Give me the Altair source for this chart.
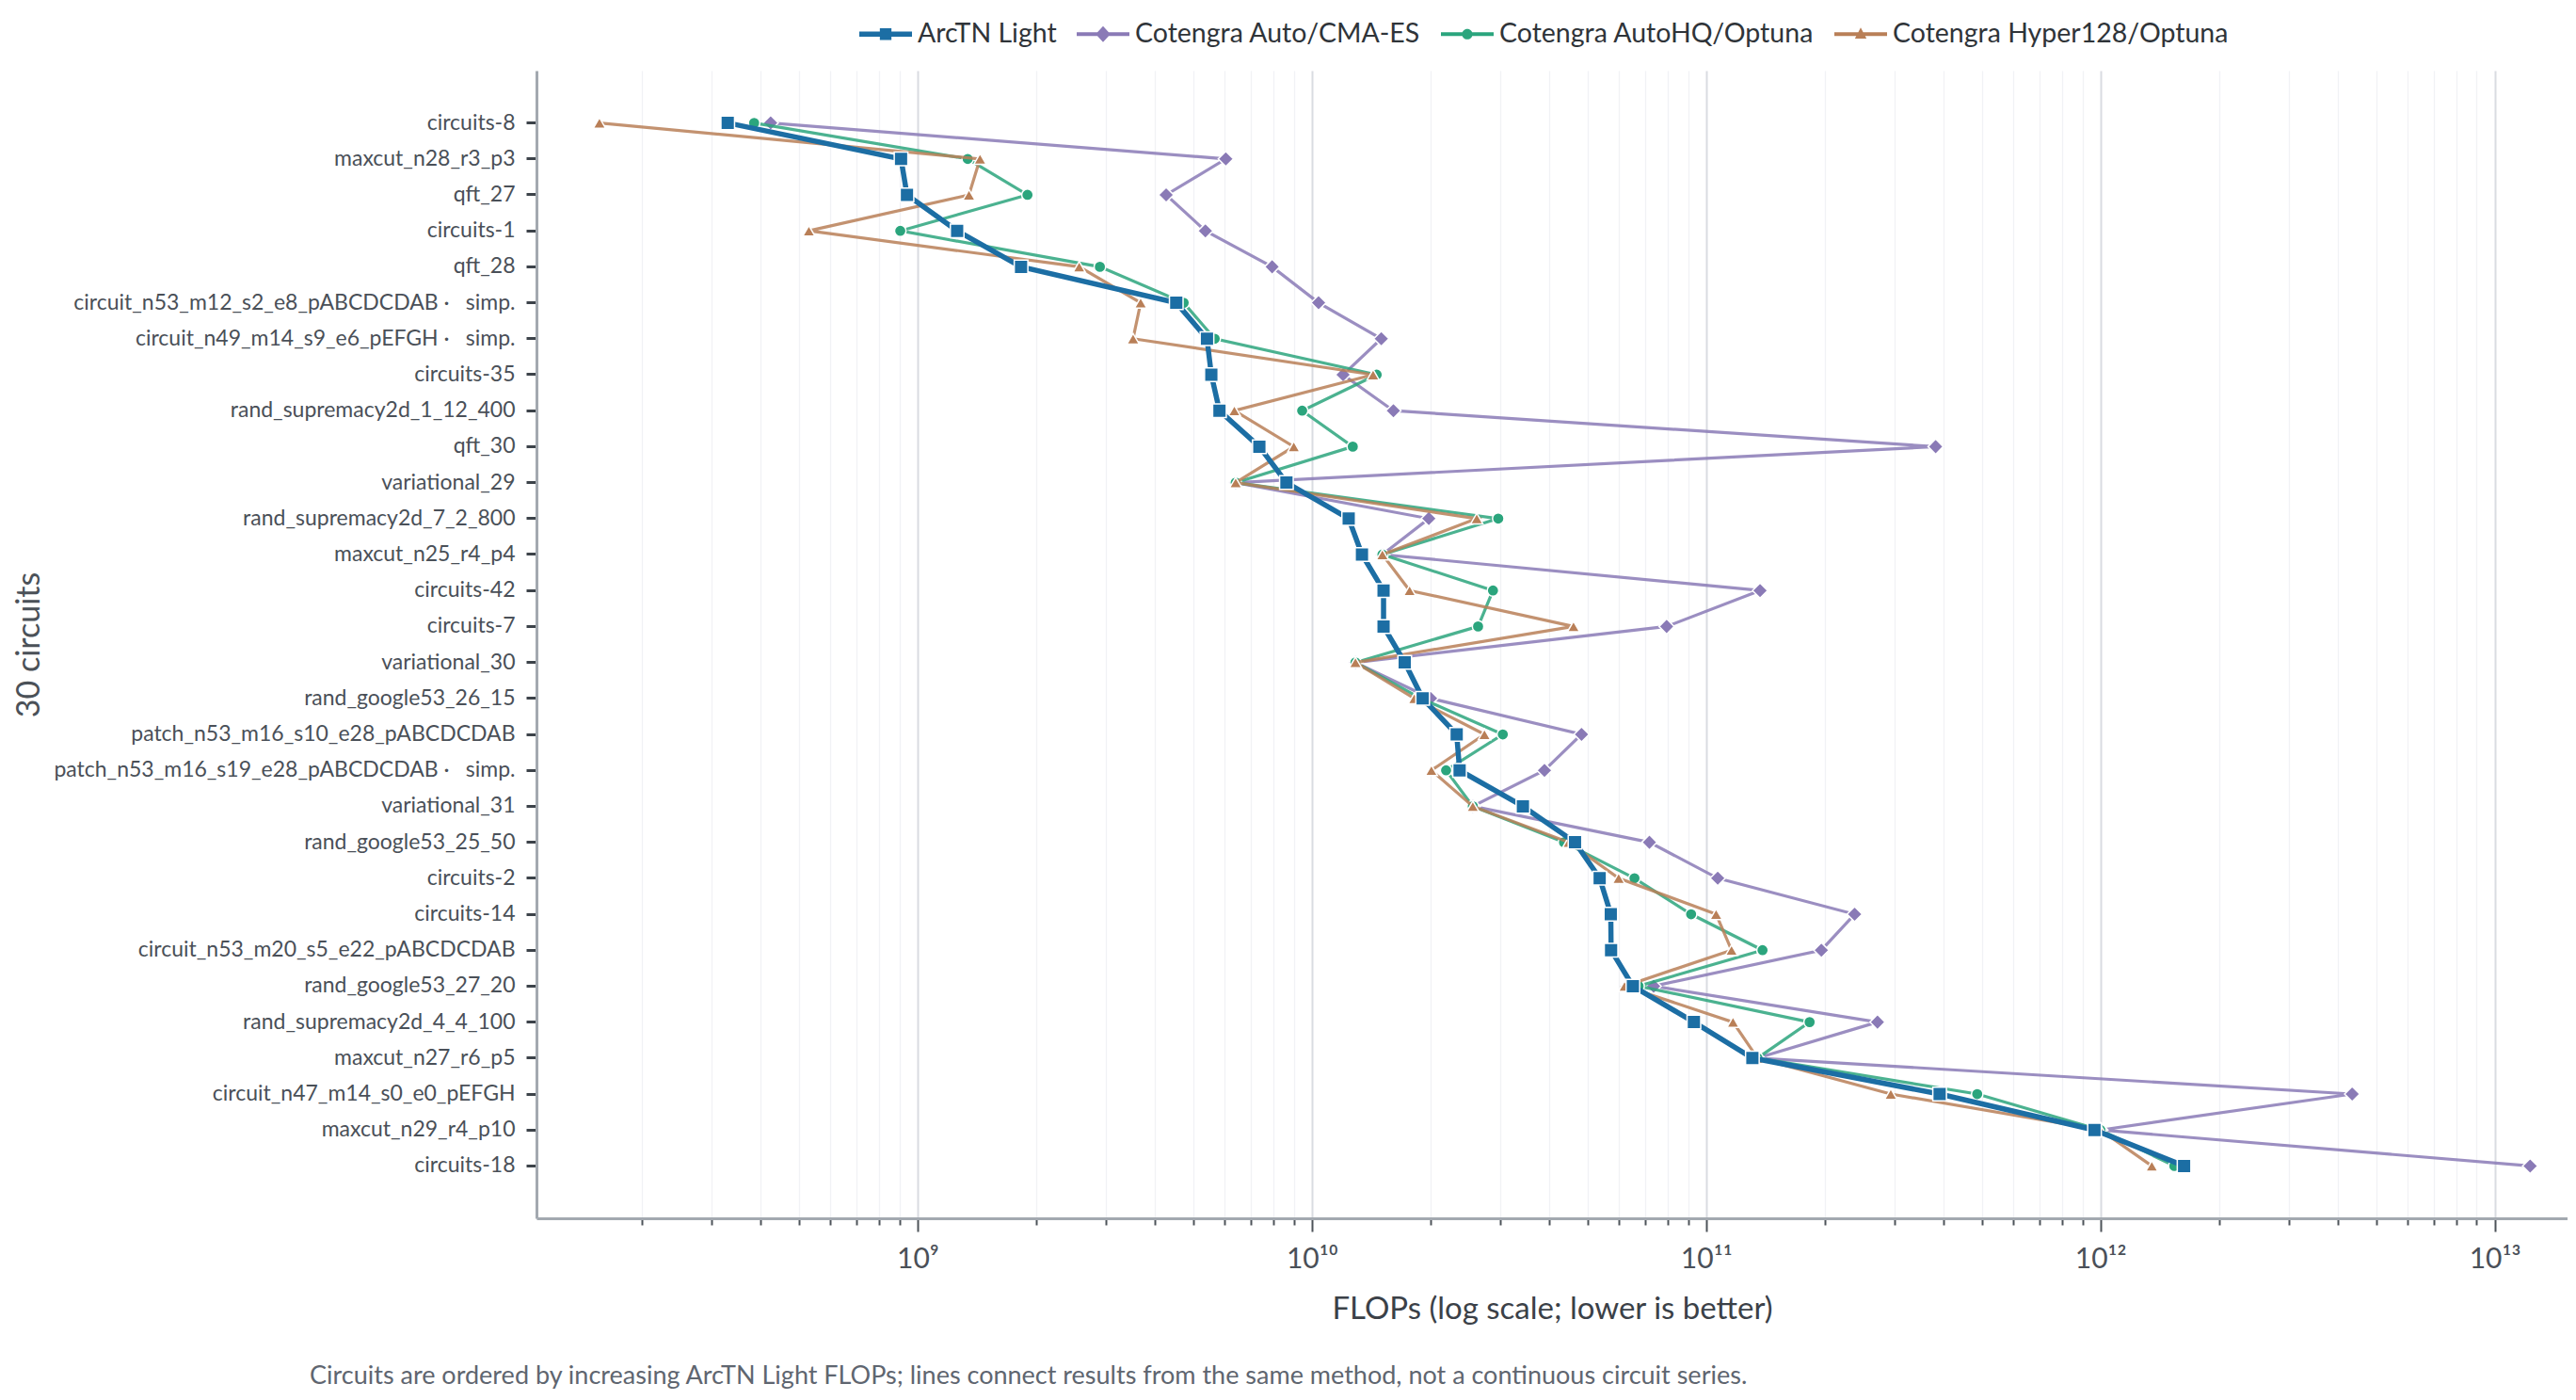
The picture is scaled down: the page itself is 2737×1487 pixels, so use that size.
import altair as alt
import pandas as pd

circuits = [
    "circuits-8", "maxcut_n28_r3_p3", "qft_27", "circuits-1", "qft_28",
    "circuit_n53_m12_s2_e8_pABCDCDAB ·\u2003simp.",
    "circuit_n49_m14_s9_e6_pEFGH ·\u2003simp.",
    "circuits-35", "rand_supremacy2d_1_12_400", "qft_30", "variational_29",
    "rand_supremacy2d_7_2_800", "maxcut_n25_r4_p4", "circuits-42", "circuits-7",
    "variational_30", "rand_google53_26_15", "patch_n53_m16_s10_e28_pABCDCDAB",
    "patch_n53_m16_s19_e28_pABCDCDAB ·\u2003simp.",
    "variational_31", "rand_google53_25_50", "circuits-2", "circuits-14",
    "circuit_n53_m20_s5_e22_pABCDCDAB", "rand_google53_27_20",
    "rand_supremacy2d_4_4_100", "maxcut_n27_r6_p5", "circuit_n47_m14_s0_e0_pEFGH",
    "maxcut_n29_r4_p10", "circuits-18",
]

arctn = [3.3e8, 9.08e8, 9.4e8, 1.26e9, 1.83e9, 4.53e9, 5.42e9, 5.56e9, 5.83e9, 7.36e9,
         8.62e9, 1.24e10, 1.34e10, 1.52e10, 1.52e10, 1.72e10, 1.91e10, 2.33e10, 2.37e10, 3.43e10,
         4.65e10, 5.37e10, 5.73e10, 5.74e10, 6.52e10, 9.31e10, 1.31e11, 3.91e11, 9.66e11, 1.63e12]
auto = [4.24e8, 6.05e9, 4.27e9, 5.37e9, 7.93e9, 1.04e10, 1.5e10, 1.2e10, 1.61e10, 3.82e11,
        6.41e9, 1.98e10, 1.51e10, 1.37e11, 7.94e10, 1.29e10, 2.0e10, 4.83e10, 3.89e10, 2.56e10,
        7.18e10, 1.07e11, 2.38e11, 1.96e11, 7.36e10, 2.72e11, 1.35e11, 4.35e12, 1.0e12, 1.23e13]
autohq = [3.85e8, 1.34e9, 1.9e9, 9.04e8, 2.9e9, 4.73e9, 5.67e9, 1.46e10, 9.45e9, 1.27e10,
          6.41e9, 2.97e10, 1.51e10, 2.88e10, 2.64e10, 1.29e10, 1.89e10, 3.05e10, 2.19e10, 2.56e10,
          4.36e10, 6.58e10, 9.16e10, 1.39e11, 6.74e10, 1.83e11, 1.35e11, 4.87e11, 1.0e12, 1.54e12]
hyper = [1.56e8, 1.44e9, 1.35e9, 5.3e8, 2.57e9, 3.68e9, 3.52e9, 1.43e10, 6.36e9, 9.0e9,
         6.41e9, 2.62e10, 1.51e10, 1.77e10, 4.61e10, 1.29e10, 1.82e10, 2.74e10, 2.01e10, 2.56e10,
         4.48e10, 6.0e10, 1.06e11, 1.16e11, 6.21e10, 1.17e11, 1.35e11, 2.94e11, 1.0e12, 1.35e12]

methods = ["ArcTN Light", "Cotengra Auto/CMA-ES", "Cotengra AutoHQ/Optuna", "Cotengra Hyper128/Optuna"]
colors = ["#1c6ea4", "#8a7ab6", "#2ba57d", "#b97f57"]
series = [arctn, auto, autohq, hyper]

rows = []
for m, vals in zip(methods, series):
    for i, (c, v) in enumerate(zip(circuits, vals)):
        rows.append({"circuit": c, "method": m, "flops": v, "idx": i})
df = pd.DataFrame(rows)

FONT = "Lato"

# tick values: every 1..9 x 10^k inside the domain, labels only on decades
x_domain = [1.08e8, 1.53e13]
tick_vals = [m * 10.0 ** e for e in range(8, 14) for m in range(1, 10)]
tick_vals = [t for t in tick_vals if x_domain[0] <= t <= x_domain[1]]
sup = {9: "10⁹", 10: "10¹⁰", 11: "10¹¹", 12: "10¹²", 13: "10¹³"}
lg = "log(datum.value)/LN10"
is_dec = f"abs({lg} - round({lg})) < 1e-6"
lab = "''"
for e, s in sup.items():
    lab = f"round({lg}) == {e} ? '{s}' : ({lab})"
label_expr = f"{is_dec} ? ({lab}) : ''"

x_enc = alt.X(
    "flops:Q",
    scale=alt.Scale(type="log", domain=x_domain, nice=False),
    axis=alt.Axis(
        title="FLOPs (log scale; lower is better)",
        values=tick_vals,
        labelExpr=label_expr,
        labelOverlap=False,
        labelFlush=False,
        labelFont=FONT, labelFontSize=30, labelColor="#4a5058", labelPadding=14,
        tickSize={"condition": {"test": is_dec, "value": 14}, "value": 7},
        tickWidth=2, tickColor="#4d5359",
        gridColor={"condition": {"test": is_dec, "value": "#d9dce1"}, "value": "#f1f2f5"},
        gridWidth={"condition": {"test": is_dec, "value": 2}, "value": 1.3},
        domainColor="#a3a9b0", domainWidth=3,
        titleFont=FONT, titleFontSize=33, titleColor="#3b4148", titleFontWeight="normal",
        titlePadding=22,
    ),
)

y_enc = alt.Y(
    "circuit:N",
    sort=circuits,
    scale=alt.Scale(type="band", paddingInner=0, paddingOuter=0.955),
    axis=alt.Axis(
        title="30 circuits",
        bandPosition=0.5,
        labelFont=FONT, labelFontSize=23, labelColor="#4a5058", labelPadding=12,
        labelLimit=800,
        tickSize=11, tickWidth=3, tickColor="#3d434a",
        gridColor="#f0f1f4", gridWidth=1.5,
        domainColor="#a3a9b0", domainWidth=3,
        titleFont=FONT, titleFontSize=34, titleColor="#4b5158", titleFontWeight="normal",
        titleX=-529, titleBaseline="alphabetic",
    ),
)

marker = {
    "ArcTN Light": ("square", 210, 5.5, 1.0),
    "Cotengra Auto/CMA-ES": ("diamond", 260, 3.2, 0.85),
    "Cotengra AutoHQ/Optuna": ("circle", 150, 3.2, 0.85),
    "Cotengra Hyper128/Optuna": ("triangle-up", 170, 3.2, 0.85),
}

base = alt.Chart(df)
layers = []
for m in ["Cotengra Auto/CMA-ES", "Cotengra AutoHQ/Optuna", "Cotengra Hyper128/Optuna", "ArcTN Light"]:
    shape, size, lw, op = marker[m]
    cscale = alt.Scale(domain=[m], range=[colors[methods.index(m)]])
    sub = base.transform_filter(alt.datum.method == m)
    layers.append(sub.mark_line(strokeWidth=lw, opacity=op).encode(
        x=x_enc, y=y_enc, order=alt.Order("idx:Q"),
        color=alt.Color("method:N", scale=cscale, legend=None),
    ))
    layers.append(sub.mark_point(shape=shape, size=size, filled=True, opacity=1,
                                 stroke="white", strokeWidth=1.5).encode(
        x=x_enc, y=y_enc,
        color=alt.Color("method:N", scale=cscale, legend=None),
    ))

# legend symbols: line segment with the method's marker
bar = lambda h: f"M-1,-{h} L1,-{h} L1,{h} L-1,{h} Z "
legend_paths = [
    bar(0.1) + "M-0.22,-0.22 L0.22,-0.22 L0.22,0.22 L-0.22,0.22 Z",
    bar(0.075) + "M0,-0.3 L0.28,0 L0,0.3 L-0.28,0 Z",
    bar(0.075) + "M0.2,0 A0.2,0.2 0 1,1 -0.2,0 A0.2,0.2 0 1,1 0.2,0 Z",
    bar(0.075) + "M0,-0.25 L0.22,0.17 L-0.22,0.17 Z",
]
legend_layer = base.mark_point(filled=True, size=0, opacity=1).encode(
    x=x_enc, y=y_enc,
    color=alt.Color("method:N", scale=alt.Scale(domain=methods, range=colors), legend=alt.Legend(
        title=None, orient="none", direction="horizontal", legendX=343, legendY=-67,
        symbolSize=3136, symbolOpacity=1, symbolStrokeWidth=0,
        labelFont=FONT, labelFontSize=28.5, labelColor="#2f3439", labelOffset=6,
        labelLimit=600, columnPadding=21, columns=4,
    )),
    shape=alt.Shape("method:N", scale=alt.Scale(domain=methods, range=legend_paths)),
)

chart = alt.layer(*layers, legend_layer).resolve_scale(
    color="independent", shape="independent"
).resolve_legend(color="independent", shape="independent").properties(
    width=2158,
    height=1219,
    padding={"left": 6, "top": 0, "right": 0, "bottom": 0},
    title=alt.TitleParams(
        text="Circuits are ordered by increasing ArcTN Light FLOPs; lines connect results from the same method, not a continuous circuit series.",
        orient="bottom", anchor="start", frame="group", dx=-241, offset=42,
        font=FONT, fontSize=27, color="#5f6670", fontWeight="normal",
    ),
).configure_view(stroke="transparent")

chart.save("out.html", embed_options={"renderer": "svg", "actions": False})
